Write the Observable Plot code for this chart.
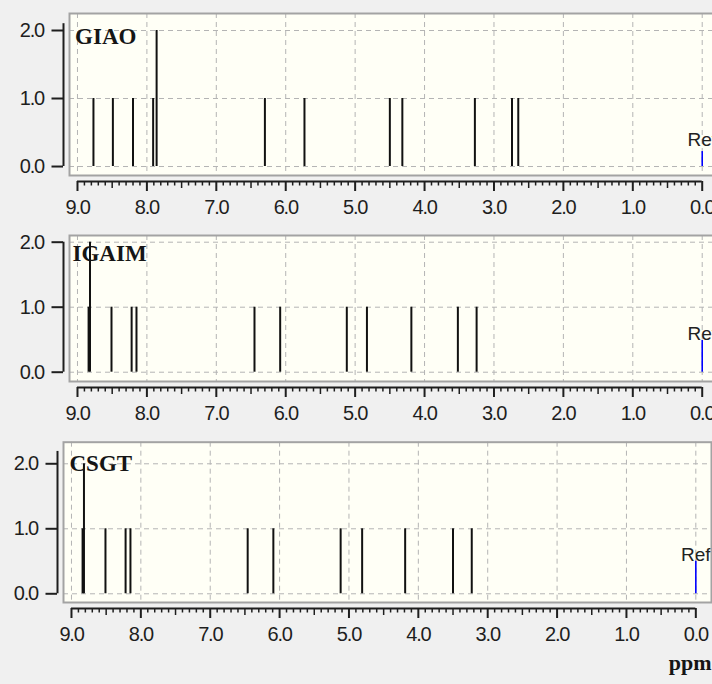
<!DOCTYPE html>
<html>
<head>
<meta charset="utf-8">
<script src="https://cdn.jsdelivr.net/npm/d3@7"></script>
<script src="https://cdn.jsdelivr.net/npm/@observablehq/plot@0.6"></script>
<style>
  html, body { margin: 0; padding: 0; background: #f0f0f0; }
  #chart { position: relative; width: 712px; height: 684px; overflow: hidden; background: #f0f0f0; }
  #chart svg { position: absolute; left: 0; }
  #chart g[aria-label="x-axis tick label"] text,
  #chart g[aria-label="y-axis tick label"] text { letter-spacing: -1.2px; }
  #chart g[aria-label="ref-label"] text { letter-spacing: -2.2px; }
</style>
</head>
<body>
<div id="chart"></div>
<script>
// ---- data ----
const methods = ["GIAO", "IGAIM", "CSGT"];
const giaoShift  = [8.77, 8.49, 8.20, 7.91, 7.86, 6.30, 5.73, 4.50, 4.32, 3.275, 2.74, 2.65];
const giaoCount  = [1, 1, 1, 1, 2, 1, 1, 1, 1, 1, 1, 1];
const igaimShift = [8.84, 8.82, 8.51, 8.22, 8.15, 6.45, 6.08, 5.12, 4.83, 4.19, 3.52, 3.25];
const igaimCount = [1, 2, 1, 1, 1, 1, 1, 1, 1, 1, 1, 1];
const csgtShift  = [8.84, 8.82, 8.51, 8.22, 8.15, 6.46, 6.09, 5.12, 4.81, 4.19, 3.50, 3.23];
const csgtCount  = [1, 2, 1, 1, 1, 1, 1, 1, 1, 1, 1, 1];
const refShift   = [0, 0, 0];
const refHeight  = [0.22, 0.49, 0.50];
const refLabel   = "Ref";
const xTicks = [9, 8, 7, 6, 5, 4, 3, 2, 1, 0];
const yTicks = [0, 1, 2];
const xUnit = "ppm";

const shifts = [giaoShift, igaimShift, csgtShift];
const counts = [giaoCount, igaimCount, csgtCount];

// ---- layout (pixels) ----
const W = 730;
const xDomain = [9.115, -0.226];
const panels = [
  {top: 0,   height: 225, mt: 13,  mb: 50, ml: 69, mr: 12.6, y: [-0.132, 2.25],  yAxisTop: 2.1,  refDy: -6, tdx: 5.6, tdy: 14},
  {top: 225, height: 215, mt: 10,  mb: 59, ml: 69, mr: 12.6, y: [-0.143, 2.103], yAxisTop: 2.0,  refDy: 0,  tdx: 3.0, tdy: 9},
  {top: 440, height: 244, mt: 1.7, mb: 82, ml: 63, mr: 19,   y: [-0.134, 2.332], yAxisTop: 2.19, refDy: 0,  tdx: 6.0, tdy: 12.3, unit: true}
];

const minorTicks = d3.range(1, 90).filter(i => i % 5 !== 0).map(i => i / 10);
const midTicks = d3.range(0, 9).map(i => i + 0.5);
const fmt = d => d.toFixed(1);
const ink = "#1e1e1e";
const gridStyle = {stroke: "#b4b4b4", strokeOpacity: 1, strokeDasharray: "5,4", strokeWidth: 1};

const chart = document.getElementById("chart");

panels.forEach((p, i) => {
  const peaks = shifts[i].map((s, j) => ({shift: s, count: counts[i][j]}));
  const ref = [{shift: refShift[i], h: refHeight[i]}];
  const marks = [
    Plot.frame({fill: "#fffff6", stroke: "none"}),
    Plot.gridX(xTicks, gridStyle),
    Plot.gridY(yTicks, gridStyle),
    Plot.ruleX(peaks, {x: "shift", y1: 0, y2: "count", stroke: "#111", strokeWidth: 2}),
    Plot.ruleX(ref, {x: "shift", y1: 0, y2: "h", stroke: "#0000ff", strokeWidth: 1.6}),
    Plot.text(ref, {x: "shift", y: "h", text: () => refLabel, lineAnchor: "bottom", dy: p.refDy,
      fontSize: 19, fill: "#222", ariaLabel: "ref-label"}),
    Plot.text([methods[i]], {frameAnchor: "top-left", dx: p.tdx, dy: p.tdy, textAnchor: "start",
      lineAnchor: "top", fontFamily: "Liberation Serif", fontWeight: "bold", fontSize: 23, fill: "#151515"}),
    Plot.frame({stroke: "#a3a3a3", strokeWidth: 2}),
    // y axis
    Plot.ruleX([xDomain[0]], {y1: 0, y2: p.yAxisTop, dx: -6, stroke: ink, strokeWidth: 2}),
    Plot.axisY(yTicks, {tickSize: 11.5, tickPadding: 8, dx: -6, tickFormat: fmt, fontSize: 20,
      stroke: ink, fill: ink, strokeWidth: 2, label: null}),
    // x axis
    Plot.ruleY([p.y[0]], {x1: xTicks[0], x2: xTicks[xTicks.length - 1], dy: 6, stroke: ink, strokeWidth: 2}),
    Plot.axisX(minorTicks, {tickSize: 4.5, dy: 6, tickFormat: () => "", stroke: ink, strokeWidth: 1.5, label: null}),
    Plot.axisX(midTicks, {tickSize: 7, dy: 6, tickFormat: () => "", stroke: ink, strokeWidth: 1.5, label: null}),
    Plot.axisX(xTicks, {tickSize: 10, tickPadding: 8, dy: 6, tickFormat: fmt, fontSize: 20,
      stroke: ink, fill: ink, strokeWidth: 2, label: null})
  ];
  if (p.unit) {
    marks.push(Plot.text([xUnit], {frameAnchor: "bottom-right", textAnchor: "end", lineAnchor: "bottom",
      dy: 67, fontFamily: "Liberation Serif", fontWeight: "bold", fontSize: 22, fill: "#151515"}));
  }
  const svg = Plot.plot({
    width: W,
    height: p.height,
    marginTop: p.mt,
    marginBottom: p.mb,
    marginLeft: p.ml,
    marginRight: p.mr,
    x: {domain: xDomain, axis: null, label: null},
    y: {domain: p.y, axis: null, label: null},
    style: {background: "transparent", maxWidth: "none", overflow: "visible",
      fontFamily: "'Liberation Sans', Arial, sans-serif", fontSize: "20px", color: ink},
    marks
  });
  svg.style.top = p.top + "px";
  chart.appendChild(svg);
});
</script>
</body>
</html>
